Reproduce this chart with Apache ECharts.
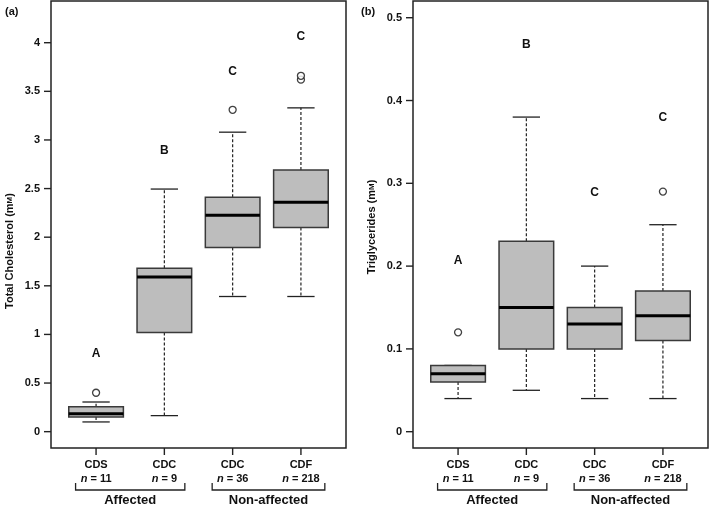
<!DOCTYPE html>
<html><head><meta charset="utf-8">
<script src="https://cdn.jsdelivr.net/npm/echarts@6/dist/echarts.min.js"></script>
<style>html,body{margin:0;padding:0;background:#fff}#c{width:709px;height:505px}</style>
</head><body><div id="c"></div>
<script>
// ---------- data ----------
const categories = ['CDS', 'CDC', 'CDC', 'CDF'];
const sampleSizes = ['11', '9', '36', '218'];
const groupNames = ['Affected', 'Non-affected'];
const groupStart = [0.7, 2.7];
const groupEnd = [2.3, 4.35];

// (a) Total cholesterol
const cholMin = [0.10, 0.165, 1.39, 1.39];
const cholQ1 = [0.15, 1.02, 1.895, 2.10];
const cholMedian = [0.185, 1.59, 2.225, 2.36];
const cholQ3 = [0.255, 1.68, 2.41, 2.69];
const cholMax = [0.305, 2.495, 3.08, 3.33];
const cholOutlierX = [1, 3, 4, 4];
const cholOutlierY = [0.40, 3.31, 3.62, 3.66];
const cholLetters = ['A', 'B', 'C', 'C'];
const cholLetterY = [0.80, 2.89, 3.70, 4.06];
const cholTicks = [0, 0.5, 1, 1.5, 2, 2.5, 3, 3.5, 4];
const cholRange = [-0.168, 4.429];

// (b) Triglycerides
const trigMin = [0.04, 0.05, 0.04, 0.04];
const trigQ1 = [0.06, 0.10, 0.10, 0.11];
const trigMedian = [0.07, 0.15, 0.13, 0.14];
const trigQ3 = [0.08, 0.23, 0.15, 0.17];
const trigMax = [0.08, 0.38, 0.20, 0.25];
const trigOutlierX = [1, 4];
const trigOutlierY = [0.12, 0.29];
const trigLetters = ['A', 'B', 'C', 'C'];
const trigLetterY = [0.207, 0.468, 0.289, 0.379];
const trigTicks = [0, 0.1, 0.2, 0.3, 0.4, 0.5];
const trigRange = [-0.0197, 0.5202];

const xPositions = [1, 2, 3, 4];
const xRange = [0.34, 4.66];

// ---------- helpers ----------
const FONT = 'Liberation Sans, Arial, Helvetica, sans-serif';
const INK = '#111';
const TICK_LEN = 7;

function boxData(mn, q1, md, q3, mx) {
  return xPositions.map((x, i) => [x, mn[i], q1[i], md[i], q3[i], mx[i]]);
}

function boxRender(params, api) {
  const x = api.value(0);
  const pMin = api.coord([x, api.value(1)]);
  const pQ1 = api.coord([x, api.value(2)]);
  const pMed = api.coord([x, api.value(3)]);
  const pQ3 = api.coord([x, api.value(4)]);
  const pMax = api.coord([x, api.value(5)]);
  const half = api.size([0.8, 0])[0] / 2;
  const capHalf = api.size([0.4, 0])[0] / 2;
  const cx = pMin[0];
  const dash = { stroke: '#222', lineWidth: 1.2, lineDash: [3, 2] };
  const solid = { stroke: '#222', lineWidth: 1.3 };
  const children = [];
  if (pMax[1] < pQ3[1] - 0.5) children.push({ type: 'line', shape: { x1: cx, y1: pQ3[1], x2: cx, y2: pMax[1] }, style: dash });
  if (pMin[1] > pQ1[1] + 0.5) children.push({ type: 'line', shape: { x1: cx, y1: pQ1[1], x2: cx, y2: pMin[1] }, style: dash });
  children.push({ type: 'line', shape: { x1: cx - capHalf, y1: pMax[1], x2: cx + capHalf, y2: pMax[1] }, style: solid });
  children.push({ type: 'line', shape: { x1: cx - capHalf, y1: pMin[1], x2: cx + capHalf, y2: pMin[1] }, style: solid });
  children.push({ type: 'rect', shape: { x: cx - half, y: pQ3[1], width: half * 2, height: pQ1[1] - pQ3[1] },
    style: { fill: '#bdbdbd', stroke: '#3a3a3a', lineWidth: 1.5 } });
  children.push({ type: 'line', shape: { x1: cx - half, y1: pMed[1], x2: cx + half, y2: pMed[1] },
    style: { stroke: '#000', lineWidth: 3 } });
  return { type: 'group', children };
}

function makeLetterRender(letters) {
  return function (params, api) {
    const p = api.coord([api.value(0), api.value(1)]);
    return { type: 'text', x: p[0], y: p[1],
      style: { text: letters[params.dataIndex], font: 'bold 12px ' + FONT, fill: INK, textAlign: 'center', textVerticalAlign: 'middle' } };
  };
}

// group brackets placed through the x axis scale
function bracketRender(range) {
  return function (params, api) {
    const yMin = range[0];
    const children = [];
    groupNames.forEach((g, i) => {
      const p1 = api.coord([groupStart[i], yMin]);
      const p2 = api.coord([groupEnd[i], yMin]);
      const y = p1[1] + 42;
      children.push({ type: 'polyline', shape: { points: [[p1[0], y - 7], [p1[0], y], [p2[0], y], [p2[0], y - 7]] },
        style: { stroke: '#222', lineWidth: 1.3, fill: null } });
      children.push({ type: 'text', x: (p1[0] + p2[0]) / 2, y: y + 10,
        style: { text: g, font: 'bold 13px ' + FONT, fill: INK, textAlign: 'center', textVerticalAlign: 'middle' } });
    });
    return { type: 'group', children };
  };
}

function xAxisDef(gridIndex) {
  return {
    type: 'value', gridIndex, min: xRange[0], max: xRange[1], position: 'bottom',
    axisLine: { show: false, onZero: false }, splitLine: { show: false }, axisTick: { show: false },
    axisLabel: {
      show: true, customValues: xPositions, margin: 10,
      formatter: v => { const i = Math.round(v) - 1; return '{a|' + categories[i] + '}\n{i|n}{b| = ' + sampleSizes[i] + '}'; },
      rich: {
        a: { fontFamily: FONT, fontWeight: 'bold', fontSize: 11, color: INK, lineHeight: 14, align: 'center' },
        i: { fontFamily: FONT, fontWeight: 'bold', fontStyle: 'italic', fontSize: 11, color: INK, lineHeight: 14 },
        b: { fontFamily: FONT, fontWeight: 'bold', fontSize: 11, color: INK, lineHeight: 14 }
      }
    }
  };
}

function yAxisDef(gridIndex, range, ticks) {
  return {
    type: 'value', gridIndex, min: range[0], max: range[1], position: 'left',
    axisLine: { show: false, onZero: false }, splitLine: { show: false }, axisTick: { show: false },
    axisLabel: { show: true, customValues: ticks, margin: 11, fontFamily: FONT, fontWeight: 'bold', fontSize: 11, color: INK }
  };
}

function yName(text, x, y) {
  return { type: 'text', x, y, rotation: Math.PI / 2,
    style: { text: '{t|' + text + ' (m}{s|M}{t|)}', textAlign: 'center', textVerticalAlign: 'middle',
      rich: { t: { fontFamily: FONT, fontWeight: 'bold', fontSize: 11, fill: INK },
              s: { fontFamily: FONT, fontWeight: 'bold', fontSize: 8, fill: INK } } } };
}

const baseGraphic = [
  { type: 'text', left: 5, top: 6, style: { text: '(a)', font: 'bold 11px ' + FONT, fill: INK } },
  { type: 'text', left: 361, top: 6, style: { text: '(b)', font: 'bold 11px ' + FONT, fill: INK } },
  yName('Total Cholesterol', 10, 251),
  yName('Triglycerides', 372, 227)
];

const option = {
  animation: false,
  backgroundColor: '#fff',
  grid: [
    { left: 51, top: 1, width: 295, height: 447, show: true, borderColor: '#222', borderWidth: 1.5, backgroundColor: 'transparent' },
    { left: 413, top: 1, width: 295, height: 447, show: true, borderColor: '#222', borderWidth: 1.5, backgroundColor: 'transparent' }
  ],
  xAxis: [xAxisDef(0), xAxisDef(1)],
  yAxis: [yAxisDef(0, cholRange, cholTicks), yAxisDef(1, trigRange, trigTicks)],
  graphic: baseGraphic,
  series: [
    { type: 'custom', xAxisIndex: 0, yAxisIndex: 0, renderItem: boxRender,
      data: boxData(cholMin, cholQ1, cholMedian, cholQ3, cholMax), encode: { x: 0, y: [1, 2, 3, 4, 5] }, z: 2 },
    { type: 'custom', xAxisIndex: 1, yAxisIndex: 1, renderItem: boxRender,
      data: boxData(trigMin, trigQ1, trigMedian, trigQ3, trigMax), encode: { x: 0, y: [1, 2, 3, 4, 5] }, z: 2 },
    { type: 'scatter', xAxisIndex: 0, yAxisIndex: 0, symbol: 'circle', symbolSize: 7,
      itemStyle: { color: '#fff', borderColor: '#111', borderWidth: 1.3 },
      data: cholOutlierX.map((x, i) => [x, cholOutlierY[i]]), z: 3 },
    { type: 'scatter', xAxisIndex: 1, yAxisIndex: 1, symbol: 'circle', symbolSize: 7,
      itemStyle: { color: '#fff', borderColor: '#111', borderWidth: 1.3 },
      data: trigOutlierX.map((x, i) => [x, trigOutlierY[i]]), z: 3 },
    { type: 'custom', xAxisIndex: 0, yAxisIndex: 0, renderItem: makeLetterRender(cholLetters),
      data: xPositions.map((x, i) => [x, cholLetterY[i]]), encode: { x: 0, y: 1 }, z: 4 },
    { type: 'custom', xAxisIndex: 1, yAxisIndex: 1, renderItem: makeLetterRender(trigLetters),
      data: xPositions.map((x, i) => [x, trigLetterY[i]]), encode: { x: 0, y: 1 }, z: 4 },
    { type: 'custom', xAxisIndex: 0, yAxisIndex: 0, renderItem: bracketRender(cholRange), clip: false,
      data: [[2.5, 2]], encode: { x: 0, y: 1 }, z: 4 },
    { type: 'custom', xAxisIndex: 1, yAxisIndex: 1, renderItem: bracketRender(trigRange), clip: false,
      data: [[2.5, 0.25]], encode: { x: 0, y: 1 }, z: 4 }
  ]
};

const chart = echarts.init(document.getElementById('c'), null, { renderer: 'canvas' });
chart.setOption(option);

// tick marks: positions converted through the chart's own axes, drawn on a top layer
const tickGraphic = [];
const tickStyle = () => ({ stroke: '#222', lineWidth: 1.4 });
[[0, cholRange, cholTicks], [1, trigRange, trigTicks]].forEach(([g, range, ticks]) => {
  ticks.forEach(v => {
    const p = chart.convertToPixel({ gridIndex: g }, [xRange[0], v]);
    tickGraphic.push({ type: 'line', shape: { x1: p[0] - TICK_LEN, y1: p[1], x2: p[0], y2: p[1] },
      style: tickStyle(), z: 100, zlevel: 1 });
  });
  xPositions.forEach(v => {
    const p = chart.convertToPixel({ gridIndex: g }, [v, range[0]]);
    tickGraphic.push({ type: 'line', shape: { x1: p[0], y1: p[1], x2: p[0], y2: p[1] + TICK_LEN },
      style: tickStyle(), z: 100, zlevel: 1 });
  });
});
chart.setOption({ graphic: baseGraphic.concat(tickGraphic) });
</script>
</body></html>
